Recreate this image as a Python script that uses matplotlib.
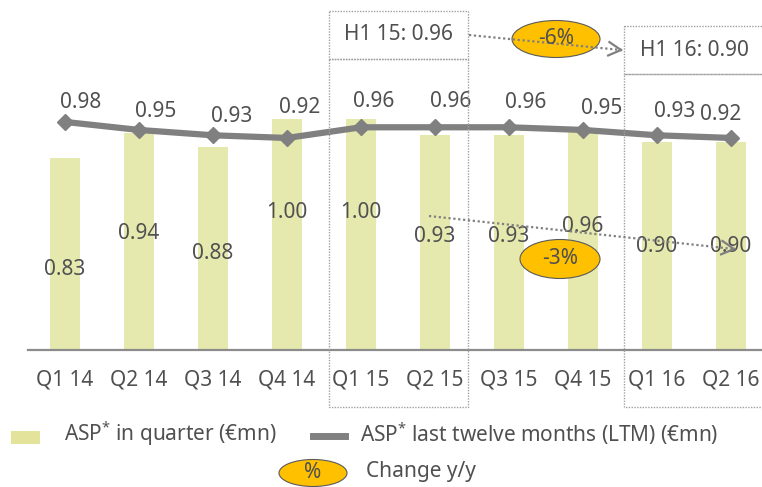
import matplotlib
matplotlib.use("Agg")
import matplotlib.pyplot as plt
import matplotlib.patches as mpatches
import matplotlib.transforms as mtransforms
from matplotlib.lines import Line2D
import numpy as np

# ---- data ----
quarters = ["Q1 14", "Q2 14", "Q3 14", "Q4 14", "Q1 15",
            "Q2 15", "Q3 15", "Q4 15", "Q1 16", "Q2 16"]
asp_quarter = [0.83, 0.94, 0.88, 1.00, 1.00, 0.93, 0.93, 0.96, 0.90, 0.90]
asp_ltm = [0.98, 0.95, 0.93, 0.92, 0.96, 0.96, 0.96, 0.95, 0.93, 0.92]
h1_labels = ["H1 15: 0.96", "H1 16: 0.90"]
change_h1 = "-6%"
change_q2 = "-3%"
legend_labels = ["ASP$^{*}$ in quarter (€mn)",
                 "ASP$^{*}$ last twelve months (LTM) (€mn)",
                 "Change y/y"]

# ---- style ----
W, H = 762, 487
plt.rcParams['font.family'] = ['Noto Sans', 'DejaVu Sans']
plt.rcParams['mathtext.fontset'] = 'custom'
plt.rcParams['mathtext.rm'] = 'Noto Sans'
TEXT = '#505050'
BAR = '#E6E9AE'
LINE = '#808080'
ORANGE = '#FFC000'
FS = 15

# label nudges for the LTM values (pixels)
ltm_dx = [16, 17, 19, 13, 13, 16, 17, 19, 18, -10]
ltm_dy = [19, 18, 19, 30, 26, 26, 25, 21, 24, 23]

fig = plt.figure(figsize=(W / 100, H / 100), dpi=100)
# pixel coordinates with origin at top-left
px = mtransforms.Affine2D().scale(1 / W, -1 / H).translate(0, 1) + fig.transFigure

base_px = 350
ax = fig.add_axes([28 / W, 1 - base_px / H, 740 / W, base_px / H])
x = np.arange(len(quarters))
ax.bar(x, asp_quarter, width=0.4, color=BAR, zorder=1)
ax.set_xlim(-0.5, 9.5)
bar_scale = 231.0  # pixels per unit
ax.set_ylim(0, base_px / bar_scale)
for s in ['left', 'right', 'top']:
    ax.spines[s].set_visible(False)
ax.spines['bottom'].set_color('#8C8C8C')
ax.spines['bottom'].set_linewidth(1.6)
ax.set_yticks([])
ax.set_xticks(x, quarters)
ax.tick_params(axis='x', length=0, pad=14, labelsize=FS, labelcolor=TEXT)
ax.patch.set_visible(False)

# quarterly values inside the bars
for i, v in enumerate(asp_quarter):
    ypix = 548 - 335 * v
    ax.text(i, (base_px - ypix) / bar_scale, f"{v:.2f}", ha='center',
            va='center', fontsize=FS, color=TEXT, zorder=3)

# LTM line on its own scale
ax2 = ax.twinx()
ltm_a, ltm_b = 383.6, 267.0
ax2.set_ylim((ltm_a - base_px) / ltm_b, ltm_a / ltm_b)
for s in ax2.spines.values():
    s.set_visible(False)
ax2.set_yticks([])
ax2.plot(x, asp_ltm, color=LINE, lw=4.5, marker='D', markersize=8,
         solid_capstyle='round', zorder=4)
for i, v in enumerate(asp_ltm):
    ax2.annotate(f"{v:.2f}", (i, v), xytext=(ltm_dx[i], ltm_dy[i]),
                 textcoords='offset pixels', ha='center', va='center',
                 fontsize=FS, color=TEXT)

# ---- half-year frames ----
dot = dict(color='#A0A0A0', lw=1.0, linestyle=(0, (1, 1)))


def rect(x0, y0, x1, y1, **kw):
    p = mpatches.Rectangle((x0, y0), x1 - x0, y1 - y0, transform=px,
                           fill=False, **kw)
    fig.add_artist(p)


rect(329, 11, 468, 59, **dot)
rect(329, 59, 468, 407, **dot)
rect(624, 26, 766, 74, **dot)
rect(624, 74, 766, 407, **dot)
fig.text(398.5 / W, 1 - 35 / H, h1_labels[0], ha='center', va='center',
         fontsize=FS, color=TEXT)
fig.text(694 / W, 1 - 50 / H, h1_labels[1], ha='center', va='center',
         fontsize=FS, color=TEXT)


def dotted_arrow(x0, y0, x1, y1):
    fig.add_artist(Line2D([x0, x1], [y0, y1], transform=px, color='#808080',
                          lw=1.6, linestyle=(0, (1, 1.2))))
    ang = np.arctan2(y1 - y0, x1 - x0)
    L = 14
    for d in (0.5, -0.5):
        a = ang + np.pi + d
        fig.add_artist(Line2D([x1, x1 + L * np.cos(a)], [y1, y1 + L * np.sin(a)],
                              transform=px, color='#808080', lw=1.6))


def badge(cx, cy, w, h, label, fs=FS):
    e = mpatches.Ellipse((cx, cy), w, h, transform=px, facecolor=ORANGE,
                         edgecolor='#5A5A5A', lw=0.8)
    fig.add_artist(e)
    fig.text(cx / W, 1 - cy / H, label, ha='center', va='center',
             fontsize=fs, color=TEXT)


dotted_arrow(469, 35, 621, 50)
badge(556, 39, 88, 37, change_h1)
dotted_arrow(429, 216, 734, 249)
badge(560, 259, 80, 39, change_q2)

# ---- legend ----
fig.add_artist(mpatches.Rectangle((11, 431), 29, 13, transform=px,
                                  facecolor='#E4E39C', edgecolor='none'))
fig.text(64 / W, 1 - 434 / H, legend_labels[0], ha='left', va='center',
         fontsize=FS, color=TEXT)
fig.add_artist(Line2D([313, 345], [436, 436], transform=px, color=LINE, lw=5))
fig.text(360 / W, 1 - 434 / H, legend_labels[1], ha='left', va='center',
         fontsize=FS, color=TEXT)
badge(313, 473, 68, 27, "%")
fig.text(366 / W, 1 - 471 / H, legend_labels[2], ha='left', va='center',
         fontsize=FS, color=TEXT)

fig.savefig("out.png", dpi=100)
